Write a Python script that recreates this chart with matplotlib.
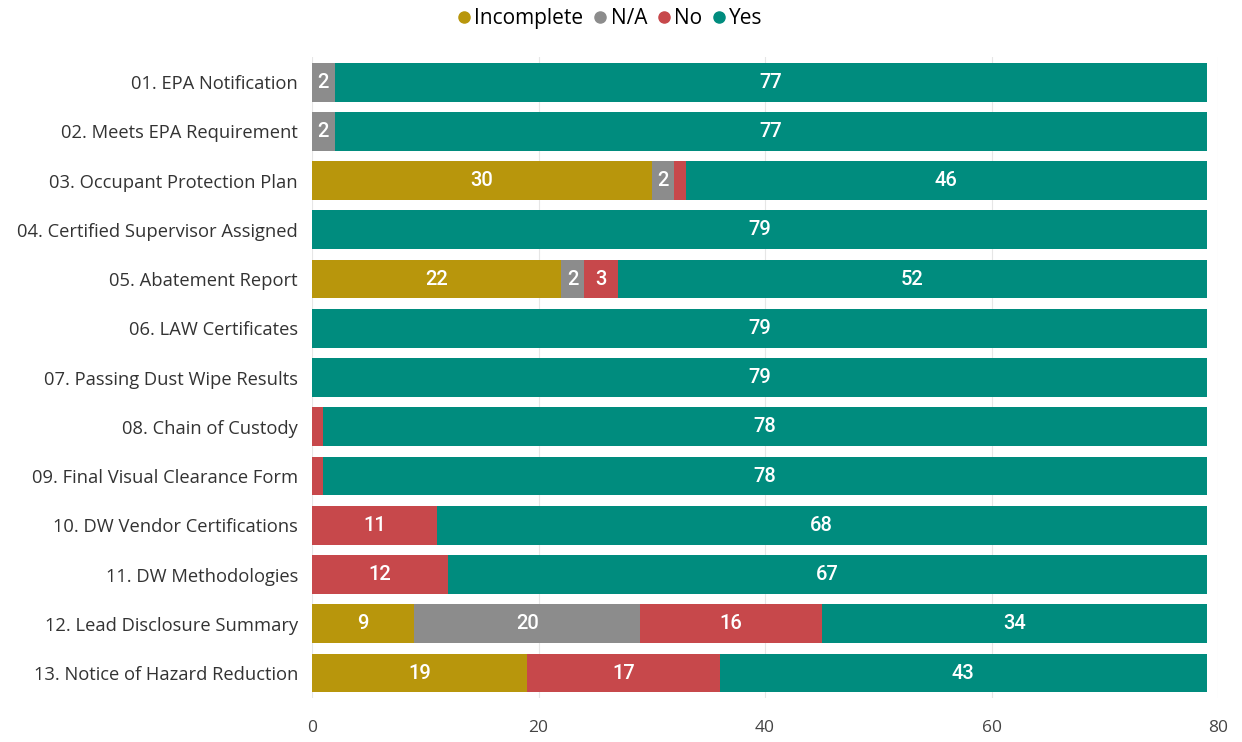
import matplotlib
matplotlib.use("Agg")
import matplotlib.pyplot as plt
from matplotlib.lines import Line2D
import numpy as np

categories = [
    "01. EPA Notification",
    "02. Meets EPA Requirement",
    "03. Occupant Protection Plan",
    "04. Certified Supervisor Assigned",
    "05. Abatement Report",
    "06. LAW Certificates",
    "07. Passing Dust Wipe Results",
    "08. Chain of Custody",
    "09. Final Visual Clearance Form",
    "10. DW Vendor Certifications",
    "11. DW Methodologies",
    "12. Lead Disclosure Summary",
    "13. Notice of Hazard Reduction",
]
incomplete = [0, 0, 30, 0, 22, 0, 0, 0, 0, 0, 0, 9, 19]
not_applicable = [2, 2, 2, 0, 2, 0, 0, 0, 0, 0, 0, 20, 0]
no = [0, 0, 1, 0, 3, 0, 0, 1, 1, 11, 12, 16, 17]
yes = [77, 77, 46, 79, 52, 79, 79, 78, 78, 68, 67, 34, 43]

series = [("Incomplete", incomplete, "#B8960C"),
          ("N/A", not_applicable, "#8C8C8C"),
          ("No", no, "#C7484B"),
          ("Yes", yes, "#008C7E")]

label_font = "Open Sans"

fig = plt.figure(figsize=(12.42, 7.42), dpi=100)
ax = fig.add_axes([0.2512, 0.0598, 0.7295, 0.8628])

y = np.arange(len(categories))
left = np.zeros(len(categories))
for name, vals, color in series:
    vals = np.array(vals, dtype=float)
    ax.barh(y, vals, left=left, height=0.79, color=color, label=name, zorder=2)
    for yi, l, v in zip(y, left, vals):
        if v >= 2:  # Power BI hides labels on the 1-wide slivers
            ax.text(l + v / 2, yi, f"{int(v)}", ha="center", va="center",
                    color="white", fontsize=14.5, family="Roboto", weight="medium",
                    zorder=3)
    left += vals

ax.set_ylim(len(categories) - 0.5, -0.5)
ax.set_xlim(0, 80)
ax.set_yticks(y)
ax.set_yticklabels(categories, fontsize=13.2, color="#333333", family=label_font)
ax.set_xticks([0, 20, 40, 60, 80])
ax.set_xticklabels(["0", "20", "40", "60", "80"], fontsize=12.5, color="#444444",
                   family=label_font)
ax.tick_params(axis="y", length=0, pad=10)
ax.tick_params(axis="x", length=0, pad=16)
ax.grid(axis="x", color="#e6e6e6", lw=0.8, zorder=0)
for s in ax.spines.values():
    s.set_visible(False)

handles = [Line2D([], [], marker="o", ls="", color=c, markersize=8) for _, _, c in series]
fig.legend(handles, [s[0] for s in series], loc="upper center",
           bbox_to_anchor=(0.491, 1.014), ncol=4, frameon=False, handlelength=0.7,
           handletextpad=0.15, columnspacing=0.45,
           prop={"family": label_font, "size": 15})

fig.savefig("out.png", dpi=100, facecolor="white")
